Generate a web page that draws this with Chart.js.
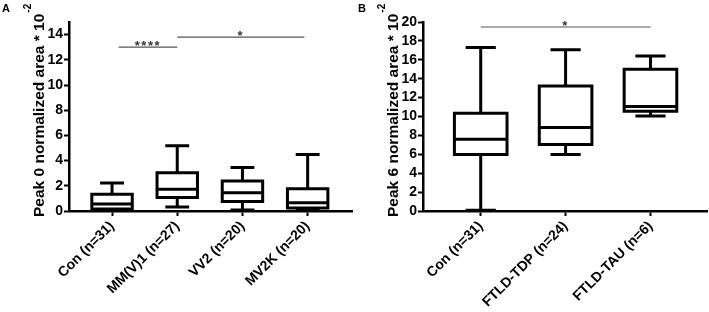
<!DOCTYPE html>
<html>
<head>
<meta charset="utf-8">
<script src="https://cdn.jsdelivr.net/npm/chart.js@4.4.0/dist/chart.umd.min.js"></script>
<style>
body{margin:0;background:#fff;}
#wrap{position:relative;width:709px;height:312px;}
canvas{position:absolute;top:0;}
</style>
</head>
<body>
<div id="wrap">
<canvas id="chartA" width="355" height="312" style="left:0"></canvas>
<canvas id="chartB" width="354" height="312" style="left:355px"></canvas>
</div>
<script>
const FONT = "'Liberation Sans', Arial, sans-serif";

// panel A - Peak 0
const catsA = ['Con (n=31)', 'MM(V)1 (n=27)', 'VV2 (n=20)', 'MV2K (n=20)'];
const minA = [0.02, 0.32, 0.08, 0.04];
const q1A  = [0.15, 1.07, 0.75, 0.24];
const medA = [0.55, 1.72, 1.45, 0.65];
const q3A  = [1.32, 3.04, 2.38, 1.77];
const maxA = [2.23, 5.18, 3.46, 4.49];
const yTicksA = [0, 2, 4, 6, 8, 10, 12, 14];
const sigFromA = [1.1, 2];
const sigToA   = [2, 3.95];
const sigYA    = [13.0, 13.8];
const sigTextA = ['****', '*'];

// panel B - Peak 6
const catsB = ['Con (n=31)', 'FTLD-TDP (n=24)', 'FTLD-TAU (n=6)'];
const minB = [0.07, 5.98, 10.05];
const q1B  = [5.98, 7.05, 10.55];
const medB = [7.6, 8.83, 11.07];
const q3B  = [10.34, 13.24, 15.0];
const maxB = [17.3, 17.06, 16.4];
const yTicksB = [0, 2, 4, 6, 8, 10, 12, 14, 16, 18, 20];
const sigFromB = [1];
const sigToB   = [3];
const sigYB    = [19.47];
const sigTextB = ['*'];

const BOX_HALF = 0.31;
const CAP_HALF = 0.16;

function boxPoints(min, q1, med, q3, max) {
  let pts = [];
  for (let i = 0; i < med.length; i++) {
    let c = i + 1;
    // box
    pts.push({x: c - BOX_HALF, y: q1[i]}, {x: c + BOX_HALF, y: q1[i]},
             {x: c + BOX_HALF, y: q3[i]}, {x: c - BOX_HALF, y: q3[i]},
             {x: c - BOX_HALF, y: q1[i]}, {x: c, y: null});
    // median
    pts.push({x: c - BOX_HALF, y: med[i]}, {x: c + BOX_HALF, y: med[i]}, {x: c, y: null});
    // whiskers + caps
    pts.push({x: c, y: q3[i]}, {x: c, y: max[i]}, {x: c, y: null});
    pts.push({x: c - CAP_HALF, y: max[i]}, {x: c + CAP_HALF, y: max[i]}, {x: c, y: null});
    pts.push({x: c, y: q1[i]}, {x: c, y: min[i]}, {x: c, y: null});
    pts.push({x: c - CAP_HALF, y: min[i]}, {x: c + CAP_HALF, y: min[i]}, {x: c, y: null});
  }
  return pts;
}

function sigPoints(from, to, ys) {
  let pts = [];
  for (let i = 0; i < ys.length; i++) {
    pts.push({x: from[i], y: ys[i]}, {x: to[i], y: ys[i]}, {x: from[i], y: null});
  }
  return pts;
}

const extras = {
  id: 'extras',
  afterDatasetsDraw(chart, args, opts) {
    const ctx = chart.ctx, area = chart.chartArea;
    const xs = chart.scales.x, ys = chart.scales.y;
    ctx.save();
    // stars over significance bars
    ctx.fillStyle = '#333';
    ctx.font = 'bold 13px ' + FONT;
    ctx.textAlign = 'center';
    ctx.textBaseline = 'alphabetic';
    if ('letterSpacing' in ctx) ctx.letterSpacing = '1.5px';
    for (let i = 0; i < opts.sigText.length; i++) {
      let x = (xs.getPixelForValue(opts.sigFrom[i]) + xs.getPixelForValue(opts.sigTo[i])) / 2;
      let y = ys.getPixelForValue(opts.sigY[i]) + 3;
      ctx.fillText(opts.sigText[i], x, y);
    }
    if ('letterSpacing' in ctx) ctx.letterSpacing = '0px';
    // panel letter
    ctx.fillStyle = '#000';
    ctx.textAlign = 'left';
    ctx.font = 'bold 11px ' + FONT;
    ctx.fillText(opts.letter, opts.letterX, 12);
    // rotated y title with superscript
    ctx.translate(area.left - 25.5, area.bottom + 6);
    ctx.rotate(-Math.PI / 2);
    ctx.font = 'bold 15.5px ' + FONT;
    ctx.fillText(opts.title, 0, 0);
    let w = ctx.measureText(opts.title).width;
    ctx.font = 'bold 10px ' + FONT;
    ctx.fillText('-2', w + 1, -13);
    ctx.restore();
  }
};

function makeChart(id, cats, stats, yTicks, yMax, xMin, xMax, sig, title, letter, yWidth, padRight) {
  new Chart(document.getElementById(id), {
    type: 'scatter',
    data: {
      datasets: [
        {
          data: boxPoints.apply(null, stats),
          showLine: true, borderColor: '#000', borderWidth: 3, pointRadius: 0,
          borderCapStyle: 'square', borderJoinStyle: 'miter', tension: 0
        },
        {
          data: sigPoints(sig[0], sig[1], sig[2]),
          showLine: true, borderColor: '#555', borderWidth: 1.2, pointRadius: 0, tension: 0
        }
      ]
    },
    options: {
      responsive: false,
      animation: false,
      layout: {padding: {top: 22, right: padRight, left: 0, bottom: 0}},
      plugins: {
        legend: {display: false},
        tooltip: {enabled: false},
        extras: {sigFrom: sig[0], sigTo: sig[1], sigY: sig[2], sigText: sig[3], title: title, letter: letter, letterX: letter === 'A' ? 2 : 3}
      },
      scales: {
        x: {
          type: 'linear', min: xMin, max: xMax,
          afterBuildTicks: s => { s.ticks = cats.map((c, i) => ({value: i + 1})); },
          afterFit: s => { s.height = 101; },
          grid: {drawOnChartArea: false, tickLength: 5, tickWidth: 2, tickColor: '#000'},
          border: {color: '#000', width: 2.5},
          ticks: {
            autoSkip: false, minRotation: 45, maxRotation: 45, padding: 2, color: '#000',
            font: {family: FONT, size: 14, weight: 'bold'},
            callback: v => cats[Math.round(v) - 1]
          }
        },
        y: {
          min: 0, max: yMax,
          afterBuildTicks: s => { s.ticks = yTicks.map(v => ({value: v})); },
          afterFit: s => { s.width = yWidth; },
          grid: {drawOnChartArea: false, tickLength: 5, tickWidth: 2, tickColor: '#000'},
          border: {color: '#000', width: 2.5},
          ticks: {autoSkip: false, padding: 1, color: '#000', font: {family: FONT, size: 14, weight: 'bold'}}
        }
      }
    },
    plugins: [extras]
  });
}

makeChart('chartA', catsA, [minA, q1A, medA, q3A, maxA], yTicksA, 15, 0.34, 4.68,
  [sigFromA, sigToA, sigYA, sigTextA], 'Peak 0 normalized area * 10', 'A', 69, 3);
makeChart('chartB', catsB, [minB, q1B, medB, q3B, maxB], yTicksB, 20, 0.32, 3.666,
  [sigFromB, sigToB, sigYB, sigTextB], 'Peak 6 normalized area * 10', 'B', 68, 2);
</script>
</body>
</html>
